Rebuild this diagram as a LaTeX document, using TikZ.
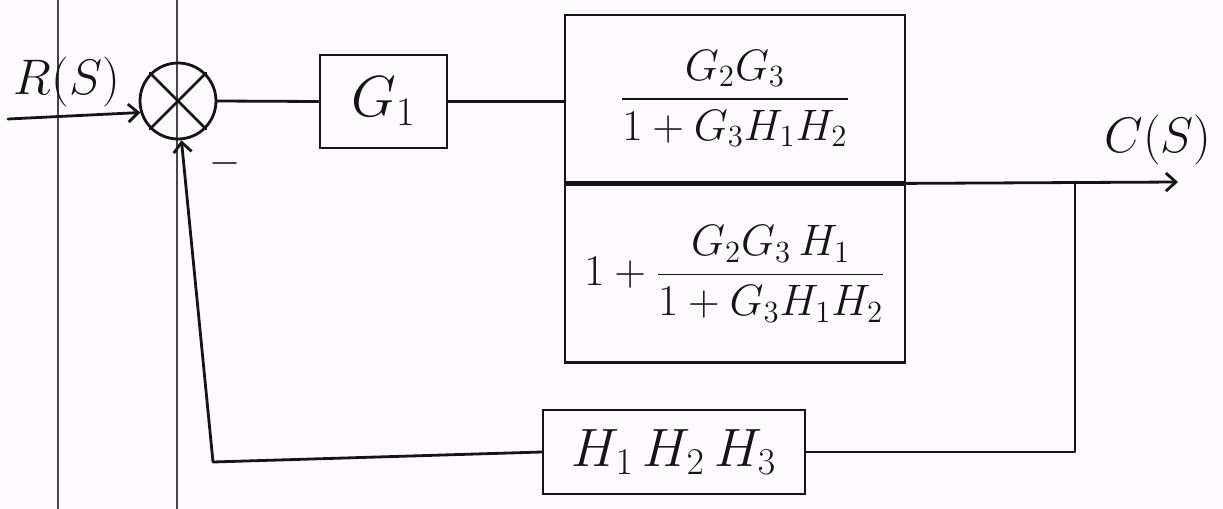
\RequirePackage{fix-cm}
\documentclass[tikz,border=0pt]{standalone}
\usepackage{amsmath}
\usetikzlibrary{arrows.meta}
\definecolor{paper}{RGB}{253,250,253}
\definecolor{ink}{RGB}{20,20,20}
\definecolor{pageline}{RGB}{70,70,70}
\tikzset{
  wire/.style={draw=ink, line width=1.4pt, line cap=round, line join=round},
  blk/.style={draw=ink, line width=1.4pt, inner sep=0pt, rectangle},
  sumj/.style={circle, draw=ink, line width=1.4pt, minimum size=38pt, inner sep=0pt},
  tip/.style={-{Straight Barb[length=5pt,width=9pt,line width=1.4pt]}},
  txt/.style={text=ink, inner sep=0pt},
  pline/.style={draw=pageline, line width=0.6pt}
}
\begin{document}
\begin{tikzpicture}[x=0.5pt,y=-0.5pt]
  \fill[paper] (0,0) rectangle (1223,509);
  \useasboundingbox (0,0) rectangle (1223,509);
  % scanned page lines
  \draw[pline] (58,0) -- (58,509);
  \draw[pline] (177,0) -- (177,509);

  % summing junction
  \node[sumj] (sum) at (178,101) {};
  \draw[wire] (sum.north west) -- (sum.south east);
  \draw[wire] (sum.north east) -- (sum.south west);

  % blocks
  \node[blk, minimum width=63.5pt, minimum height=46.5pt, txt, font=\fontsize{29}{34}\selectfont]
    (G1) at (383.5,101.5) {$G_1$};
  \node[blk, minimum width=170pt, minimum height=83.5pt, txt, font=\fontsize{22}{26}\selectfont]
    (top) at (735,98.5) {$\displaystyle\frac{G_2G_3}{1+G_3H_1H_2}$};
  \node[blk, minimum width=170pt, minimum height=89pt, anchor=north, txt, font=\fontsize{22}{26}\selectfont]
    (bot) at (top.south) {$\displaystyle 1+\frac{G_2G_3\,H_1}{1+G_3H_1H_2}$};
  \node[blk, minimum width=131pt, minimum height=42pt, txt, font=\fontsize{27}{32}\selectfont]
    (H) at (674,452) {$H_1\,H_2\,H_3$};

  % labels
  \node[txt, font=\fontsize{25}{30}\selectfont] (R) at (67,82) {$R(S)$};
  \node[txt, font=\fontsize{25}{30}\selectfont] (C) at (1158,140) {$C(S)$};
  \node[txt, font=\fontsize{20}{24}\selectfont] (minus) at (225,163) {$-$};

  % connectors
  \coordinate (in) at (8,119);
  \coordinate (cout) at (1178,182);
  \coordinate (tk) at (1075,182);
  \coordinate (fb) at (213,462);

  \draw[wire,tip] (in) -- (sum.197);
  \draw[wire] (sum.east) -- (G1.west);
  \draw[wire] (G1.east) -- (G1.east -| top.west);
  \draw[wire,tip] (top.south east) -- (cout);
  \draw[wire] (tk) |- (H.east);
  \draw[wire,tip] (H.west) -- (fb) -- (sum.-85);
\end{tikzpicture}
\end{document}
